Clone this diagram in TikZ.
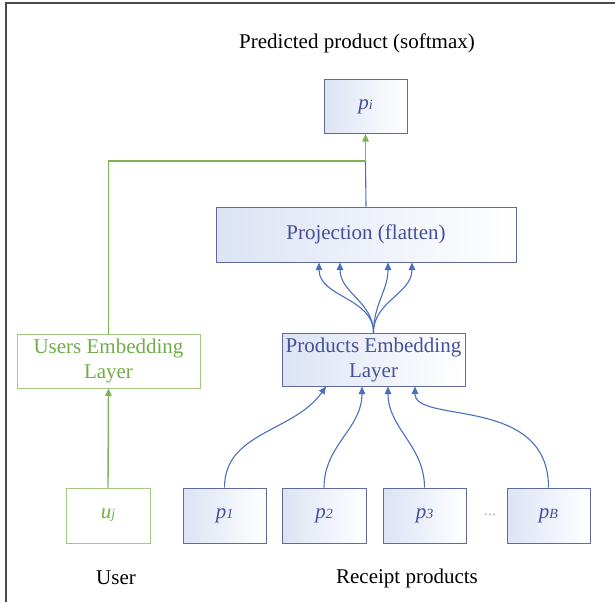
\documentclass[tikz,border=0pt]{standalone}
\usepackage{fontspec}
\setmainfont{Liberation Serif}
\usetikzlibrary{arrows.meta}
\definecolor{bluetext}{HTML}{44509A}
\definecolor{boxblue}{HTML}{5F6A9A}
\definecolor{shadeblue}{HTML}{DCE3F4}
\definecolor{lineblue}{HTML}{4A6FBC}
\definecolor{greentext}{HTML}{70AD47}
\definecolor{boxgreen}{HTML}{A2C882}
\definecolor{linegreen}{HTML}{7DB356}
\definecolor{framegray}{HTML}{4A4A4A}
\newcommand\plab[2]{\textit{#1}{\fontsize{14}{14}\selectfont\textit{#2}}}
\begin{document}
\begin{tikzpicture}[x=1pt,y=1pt,
  lab/.style={font=\fontsize{21}{25}\selectfont, align=center, inner sep=0pt},
  pbox/.style={lab, draw=boxblue, line width=1pt, left color=shadeblue, right color=white, minimum width=84pt, minimum height=55pt, text=bluetext},
  gbox/.style={lab, draw=boxgreen, line width=1pt, fill=white, minimum width=84pt, minimum height=55pt, text=greentext},
  tip/.style={-{Triangle[width=6.5pt,length=7.5pt]}},
  bline/.style={draw=lineblue, line width=1.1pt},
  gline/.style={draw=linegreen, line width=1.4pt},
  frame/.style={draw=framegray, line width=2.2pt}
]
\useasboundingbox (0,0) rectangle (615,-602);
\draw[frame] (6,-602) -- (6,-3) -- (615,-3);

% nodes
\node[lab] (title) at (357,-43) {Predicted product (softmax)};
\node[pbox, minimum width=83pt, minimum height=54pt] (pi) at (365.5,-106.5) {\plab{p}{i}};
\node[pbox, minimum width=300pt, minimum height=55pt] (proj) at (366,-234.5) {Projection (flatten)};
\node[pbox, minimum width=183pt, minimum height=53pt] (pel) at (373.5,-359.5) {Products Embedding\\Layer};
\node[gbox, minimum width=183pt, minimum height=54pt] (uel) at (108.5,-361) {Users Embedding\\Layer};
\node[gbox] (uj) at (108,-515.5) {\plab{u}{j}};
\node[pbox, minimum width=83pt] (p1) at (224.5,-515.5) {\plab{p}{1}};
\node[pbox] (p2) at (324,-515.5) {\plab{p}{2}};
\node[pbox, minimum width=83pt] (p3) at (424.5,-515.5) {\plab{p}{3}};
\node[pbox, minimum width=83pt] (pB) at (548.5,-515.5) {\plab{p}{B}};
\node[lab, font=\fontsize{17}{17}\selectfont, text=gray!55] (dots) at (490,-515) {...};
\node[lab] (user) at (116,-578) {User};
\node[lab] (receipt) at (407,-578) {Receipt products};

% connectors
\coordinate (join) at (pi.south |- 0,-161);
\draw[bline] (proj.north) -- (join);
\draw[gline, tip] (uel.north) |- (join) -- (pi.south);
\draw[gline, tip] (uj.north) -- (uel.south);

\foreach \dx in {-47,-26,22,46}{
  \draw[bline, tip] (pel.north) to[out=90, in=-90] ([xshift=\dx pt]proj.south);
}

\draw[bline, tip] (p1.north) to[out=90, in=-125] ([xshift=-47.5pt]pel.south);
\draw[bline, tip] (p2.north) to[out=90, in=-90] ([xshift=-11.5pt]pel.south);
\draw[bline, tip] (p3.north) to[out=90, in=-90] ([xshift=14.5pt]pel.south);
\draw[bline, tip] (pB.north) .. controls +(0,93) and +(0,-38) .. ([xshift=41.5pt]pel.south);
\end{tikzpicture}
\end{document}
